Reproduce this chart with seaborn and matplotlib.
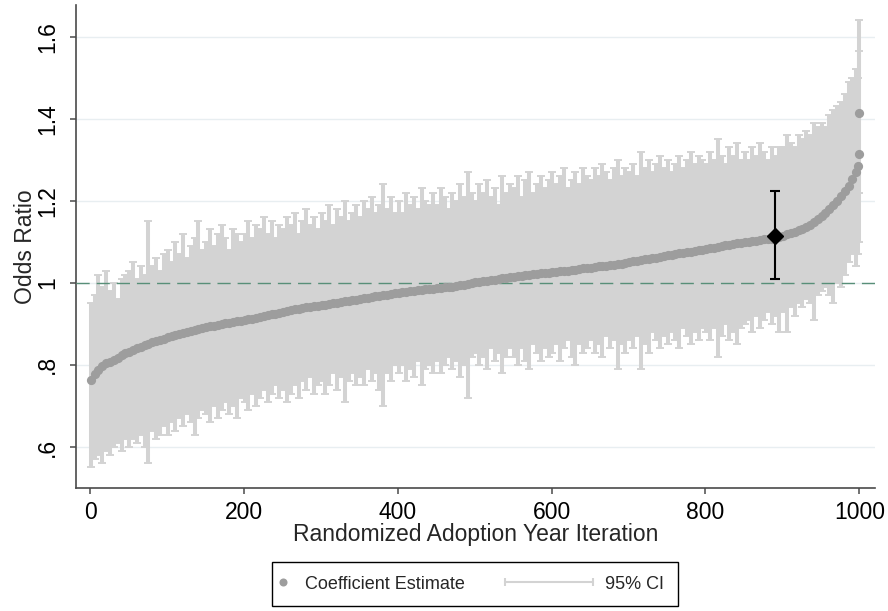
import numpy as np
import matplotlib
matplotlib.use("Agg")
import matplotlib.pyplot as plt
from matplotlib.lines import Line2D
from matplotlib.legend_handler import HandlerLine2D
import seaborn as sns

sns.set_theme(style="white")
plt.rcParams['font.family'] = ['Liberation Sans', 'DejaVu Sans']

# Randomized iterations (every 5th draw shown, plus the last three), sorted by estimate
iteration = np.r_[np.arange(1, 1000, 5), [998, 999, 1000]]

estimate = [
    0.764, 0.778, 0.788, 0.797, 0.804, 0.808, 0.812, 0.817, 0.823, 0.828,
    0.832, 0.836, 0.840, 0.844, 0.848, 0.852, 0.855, 0.858, 0.861, 0.864,
    0.867, 0.870, 0.873, 0.876, 0.878, 0.880, 0.883, 0.885, 0.887, 0.889,
    0.892, 0.894, 0.896, 0.898, 0.900, 0.901, 0.903, 0.905, 0.906, 0.908,
    0.910, 0.911, 0.913, 0.915, 0.917, 0.919, 0.921, 0.923, 0.925, 0.927,
    0.929, 0.931, 0.933, 0.935, 0.937, 0.938, 0.940, 0.941, 0.943, 0.944,
    0.946, 0.947, 0.949, 0.950, 0.952, 0.953, 0.955, 0.956, 0.958, 0.959,
    0.961, 0.962, 0.964, 0.965, 0.967, 0.968, 0.970, 0.971, 0.973, 0.975,
    0.976, 0.977, 0.978, 0.980, 0.981, 0.982, 0.983, 0.984, 0.985, 0.986,
    0.987, 0.988, 0.989, 0.990, 0.991, 0.992, 0.994, 0.995, 0.997, 0.999,
    1.001, 1.002, 1.004, 1.005, 1.007, 1.008, 1.010, 1.011, 1.012, 1.014,
    1.015, 1.016, 1.017, 1.019, 1.020, 1.021, 1.022, 1.023, 1.024, 1.025,
    1.026, 1.027, 1.028, 1.029, 1.030, 1.031, 1.032, 1.033, 1.035, 1.036,
    1.037, 1.038, 1.040, 1.041, 1.042, 1.043, 1.044, 1.045, 1.047, 1.048,
    1.050, 1.052, 1.053, 1.055, 1.057, 1.058, 1.060, 1.061, 1.063, 1.065,
    1.067, 1.068, 1.070, 1.072, 1.073, 1.075, 1.076, 1.078, 1.080, 1.081,
    1.083, 1.085, 1.086, 1.088, 1.090, 1.092, 1.093, 1.095, 1.097, 1.098,
    1.099, 1.100, 1.102, 1.103, 1.104, 1.106, 1.107, 1.108, 1.110, 1.112,
    1.115, 1.118, 1.121, 1.124, 1.128, 1.132, 1.137, 1.142, 1.148, 1.155,
    1.162, 1.170, 1.179, 1.189, 1.200, 1.211, 1.223, 1.237, 1.252, 1.270,
    1.284, 1.314, 1.414,
]

ci_high = [
    0.95, 0.97, 1.02, 0.99, 1.03, 0.98, 1.00, 0.96, 1.01, 1.02,
    1.03, 1.05, 1.01, 1.04, 1.02, 1.15, 1.04, 1.06, 1.03, 1.07,
    1.08, 1.05, 1.10, 1.07, 1.12, 1.06, 1.09, 1.11, 1.15, 1.08,
    1.10, 1.13, 1.09, 1.12, 1.14, 1.11, 1.08, 1.13, 1.12, 1.10,
    1.12, 1.15, 1.11, 1.14, 1.13, 1.16, 1.12, 1.15, 1.11, 1.14,
    1.13, 1.16, 1.14, 1.17, 1.12, 1.15, 1.18, 1.14, 1.16, 1.13,
    1.17, 1.15, 1.19, 1.14, 1.18, 1.16, 1.20, 1.15, 1.17, 1.19,
    1.16, 1.20, 1.18, 1.21, 1.17, 1.19, 1.24, 1.18, 1.21, 1.17,
    1.20, 1.17, 1.22, 1.19, 1.21, 1.18, 1.23, 1.20, 1.19, 1.22,
    1.19, 1.23, 1.21, 1.18, 1.22, 1.20, 1.24, 1.21, 1.27, 1.22,
    1.20, 1.24, 1.22, 1.25, 1.21, 1.23, 1.19, 1.26, 1.22, 1.24,
    1.23, 1.26, 1.21, 1.25, 1.27, 1.22, 1.24, 1.26, 1.23, 1.25,
    1.27, 1.24, 1.26, 1.28, 1.23, 1.25, 1.27, 1.24, 1.28, 1.26,
    1.25, 1.28, 1.26, 1.29, 1.27, 1.25, 1.28, 1.30, 1.26, 1.28,
    1.27, 1.29, 1.26, 1.32, 1.28, 1.30, 1.27, 1.29, 1.31, 1.28,
    1.30, 1.27, 1.29, 1.31, 1.28, 1.30, 1.32, 1.29, 1.31, 1.30,
    1.29, 1.32, 1.30, 1.35, 1.31, 1.29, 1.33, 1.31, 1.34, 1.30,
    1.32, 1.30, 1.33, 1.31, 1.34, 1.32, 1.30, 1.33, 1.31, 1.33,
    1.33, 1.36, 1.34, 1.33, 1.36, 1.35, 1.37, 1.36, 1.39, 1.38,
    1.39, 1.38, 1.41, 1.42, 1.43, 1.44, 1.46, 1.49, 1.50, 1.52,
    1.50, 1.565, 1.64,
]

ci_low = [
    0.55, 0.57, 0.58, 0.56, 0.59, 0.58, 0.60, 0.61, 0.59, 0.62,
    0.60, 0.62, 0.61, 0.63, 0.60, 0.56, 0.64, 0.62, 0.63, 0.65,
    0.63, 0.66, 0.64, 0.67, 0.65, 0.68, 0.66, 0.63, 0.67, 0.69,
    0.68, 0.66, 0.70, 0.67, 0.69, 0.71, 0.68, 0.70, 0.67, 0.72,
    0.71, 0.69, 0.73, 0.70, 0.72, 0.74, 0.71, 0.73, 0.75, 0.72,
    0.74, 0.71, 0.73, 0.75, 0.72, 0.76, 0.74, 0.77, 0.73, 0.75,
    0.76, 0.73, 0.75, 0.78, 0.74, 0.77, 0.71, 0.76, 0.78, 0.75,
    0.77, 0.75, 0.79, 0.76, 0.78, 0.74, 0.70, 0.78, 0.76, 0.80,
    0.78, 0.80, 0.76, 0.79, 0.77, 0.81, 0.75, 0.79, 0.80, 0.78,
    0.81, 0.78, 0.80, 0.82, 0.79, 0.81, 0.77, 0.80, 0.72, 0.82,
    0.83, 0.80, 0.82, 0.79, 0.84, 0.81, 0.83, 0.78, 0.82, 0.84,
    0.82, 0.80, 0.84, 0.81, 0.79, 0.85, 0.83, 0.81, 0.84, 0.82,
    0.83, 0.85, 0.81, 0.84, 0.86, 0.82, 0.80, 0.85, 0.83, 0.84,
    0.86, 0.83, 0.85, 0.82, 0.87, 0.84, 0.86, 0.79, 0.85, 0.83,
    0.86, 0.84, 0.87, 0.79, 0.85, 0.83, 0.88, 0.86, 0.84, 0.87,
    0.85, 0.88, 0.86, 0.84, 0.89, 0.87, 0.85, 0.88, 0.86, 0.89,
    0.88, 0.86, 0.89, 0.82, 0.87, 0.90, 0.86, 0.88, 0.85, 0.89,
    0.90, 0.91, 0.88, 0.92, 0.89, 0.91, 0.93, 0.90, 0.92, 0.88,
    0.93, 0.88, 0.94, 0.92, 0.95, 0.94, 0.96, 0.95, 0.91, 0.97,
    0.98, 0.99, 0.97, 0.95, 1.00, 0.99, 1.02, 1.05, 1.07, 1.04,
    1.07, 1.10, 1.22,
]

# Actual adoption-year estimate (highlighted)
actual_iter = 891
actual_est = 1.113
actual_low = 1.009
actual_high = 1.223

y_ticks = [0.6, 0.8, 1.0, 1.2, 1.4, 1.6]
y_tick_labels = ['.6', '.8', '1', '1.2', '1.4', '1.6']
x_ticks = [0, 200, 400, 600, 800, 1000]

est = np.array(estimate)
lo = np.array(ci_low)
hi = np.array(ci_high)

CI_COLOR = '#d3d3d3'
EST_COLOR = '#9d9d9d'
AXIS_COLOR = '#4a4a4a'

fig = plt.figure(figsize=(8.88, 6.11), dpi=100)
ax = fig.add_axes([0.0856, 0.2013, 0.8998, 0.7905])

ax.errorbar(iteration, est, yerr=[est - lo, hi - est], fmt='none',
            ecolor=CI_COLOR, elinewidth=2.9, capsize=2.9, capthick=1.4, zorder=2)
ax.axhline(1, color='#588f78', lw=1.0, dashes=(9.5, 5), zorder=3)
sns.scatterplot(x=iteration, y=est, color=EST_COLOR, s=44, linewidth=0,
                ax=ax, zorder=4, legend=False)
ax.errorbar([actual_iter], [actual_est],
            yerr=[[actual_est - actual_low], [actual_high - actual_est]],
            fmt='D', color='black', ms=8.5, elinewidth=1.5, capsize=3.6,
            capthick=1.5, zorder=5)

ax.set_xlim(-18.2, 1020.4)
ax.set_ylim(0.5, 1.677)
ax.set_xticks(x_ticks)
ax.set_yticks(y_ticks)
ax.set_yticklabels(y_tick_labels, rotation=90, va='center')
ax.yaxis.grid(True, color='#e8eef1', lw=1.0)
ax.xaxis.grid(False)
ax.set_axisbelow(True)

for side in ['top', 'right']:
    ax.spines[side].set_visible(False)
for side in ['left', 'bottom']:
    ax.spines[side].set_color(AXIS_COLOR)
    ax.spines[side].set_linewidth(1.2)
ax.tick_params(bottom=True, left=True, direction='out', length=4.3,
               width=1.1, color=AXIS_COLOR, labelsize=16.5, labelcolor='black')
ax.tick_params(axis='x', pad=5)
ax.tick_params(axis='y', pad=8)

ax.set_xlabel('Randomized Adoption Year Iteration', fontsize=16.5, labelpad=-0.5)
ax.set_ylabel('Odds Ratio', fontsize=16.5, labelpad=-1)


class DotHandler(HandlerLine2D):
    # single marker sits at the middle of the returned x-range
    def get_xdata(self, legend, xdescent, ydescent, width, height, fontsize):
        mid = -xdescent - 0.14 * fontsize
        return [mid - 1, mid + 1], [mid]


class CIHandler(HandlerLine2D):
    def get_xdata(self, legend, xdescent, ydescent, width, height, fontsize):
        x = np.array([-xdescent - 4.5 * fontsize, -xdescent + 0.4 * fontsize])
        return x, x


dot_handle = Line2D([], [], marker='o', color=EST_COLOR, ls='none', ms=5.8, mew=0)
ci_handle = Line2D([], [], color=CI_COLOR, lw=1.5, marker='|', ms=6, mew=1.5)

leg = fig.legend([dot_handle, ci_handle], ['Coefficient Estimate', '95% CI'],
                 loc='upper left', bbox_to_anchor=(272 / 888, 1 - 562 / 611),
                 borderaxespad=0, ncol=2, frameon=True, fancybox=False,
                 edgecolor='black', framealpha=1, fontsize=13, borderpad=0.75,
                 handlelength=0.8, handletextpad=0.28, columnspacing=6.7,
                 handler_map={dot_handle: DotHandler(), ci_handle: CIHandler(numpoints=2)})
leg.get_frame().set_linewidth(1.0)

fig.savefig('out.png', dpi=100)
